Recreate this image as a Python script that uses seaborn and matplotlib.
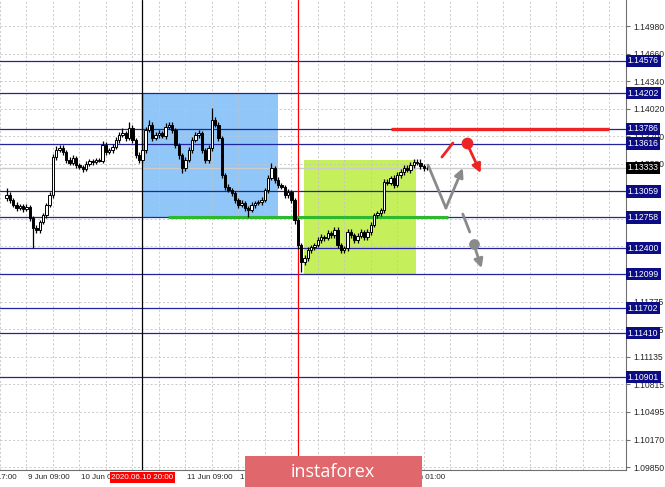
import matplotlib
matplotlib.use("Agg")
import matplotlib.pyplot as plt
import seaborn as sns
from matplotlib.patches import Rectangle

# EURUSD H1 candles (bar index 0 = 9 Jun 03:00)
closes = [
    1.13017, 1.12959, 1.12901, 1.12866, 1.12889, 1.12854, 1.12878, 1.12750, 1.12633, 1.12610,
    1.12703, 1.12784, 1.12901, 1.13017, 1.13459, 1.13540, 1.13564, 1.13517, 1.13424, 1.13389,
    1.13447, 1.13366, 1.13343, 1.13320, 1.13378, 1.13413, 1.13401, 1.13430, 1.13418, 1.13599,
    1.13517, 1.13540, 1.13575, 1.13657, 1.13715, 1.13738, 1.13680, 1.13796, 1.13657, 1.13482,
    1.13424, 1.13540, 1.13773, 1.13831, 1.13680, 1.13715, 1.13738, 1.13703, 1.13808, 1.13831,
    1.13773, 1.13599, 1.13482, 1.13331, 1.13424, 1.13540, 1.13657, 1.13715, 1.13738, 1.13540,
    1.13424, 1.13564, 1.13889, 1.13831, 1.13680, 1.13250, 1.13110, 1.13075, 1.13040, 1.12959,
    1.12901, 1.12924, 1.12866, 1.12842, 1.12901, 1.12924, 1.12936, 1.12959, 1.13075, 1.13215,
    1.13331, 1.13192, 1.13134, 1.13110, 1.13017, 1.13052, 1.12959, 1.12726, 1.12436, 1.12238,
    1.12285, 1.12378, 1.12412, 1.12436, 1.12494, 1.12529, 1.12517, 1.12575, 1.12552, 1.12610,
    1.12436, 1.12378, 1.12401, 1.12587, 1.12552, 1.12494, 1.12540, 1.12587, 1.12529, 1.12587,
    1.12668, 1.12784, 1.12808, 1.12842, 1.13169, 1.13160, 1.13215, 1.13134, 1.13250, 1.13285,
    1.13331, 1.13308, 1.13366, 1.13401, 1.13389, 1.13354, 1.13331, 1.13333,
]
first_open = 1.12980

# wick sizes in pips above / below the body
upper_wick_pips = [
    8, 3, 2, 3, 2, 2, 3, 2, 2, 3,
    2, 3, 2, 3, 3, 5, 4, 3, 2, 3,
    3, 2, 2, 2, 3, 2, 2, 2, 2, 5,
    3, 2, 3, 3, 4, 6, 2, 7, 3, 2,
    3, 66, 4, 6, 3, 3, 4, 2, 5, 4,
    3, 2, 2, 2, 3, 3, 3, 4, 3, 2,
    2, 3, 14, 4, 3, 2, 2, 3, 2, 2,
    2, 3, 2, 2, 3, 2, 2, 3, 2, 3,
    6, 2, 3, 2, 2, 3, 2, 2, 2, 2,
    4, 3, 3, 2, 3, 3, 2, 4, 2, 3,
    3, 2, 2, 4, 3, 2, 3, 4, 2, 3,
    3, 3, 2, 3, 4, 3, 2, 3, 4, 3,
    3, 4, 4, 3, 3, 5, 2, 2,
]
lower_wick_pips = [
    3, 3, 2, 3, 2, 3, 2, 3, 23, 3,
    3, 2, 3, 2, 3, 3, 2, 3, 3, 2,
    2, 3, 2, 3, 2, 2, 3, 2, 2, 3,
    3, 2, 3, 2, 3, 2, 3, 2, 3, 3,
    4, 3, 3, 2, 3, 2, 3, 2, 3, 2,
    3, 3, 4, 6, 3, 2, 3, 2, 3, 3,
    4, 3, 3, 2, 3, 3, 3, 2, 3, 3,
    3, 2, 3, 8, 2, 3, 2, 3, 2, 3,
    2, 3, 3, 2, 3, 3, 3, 4, 5, 12,
    3, 3, 4, 3, 2, 3, 4, 2, 3, 3,
    3, 4, 3, 3, 4, 3, 3, 2, 4, 3,
    3, 2, 3, 3, 3, 3, 3, 3, 2, 3,
    3, 2, 3, 3, 2, 3, 3, 2,
]

levels = [1.14576, 1.14202, 1.13786, 1.13616, 1.13059, 1.12758,
          1.12400, 1.12099, 1.11702, 1.11410, 1.10901]
last_price = 1.13333

price_ticks = [1.14980, 1.14660, 1.14340, 1.14020, 1.13700, 1.13380, 1.13060,
               1.12740, 1.12420, 1.12100, 1.11775, 1.11455, 1.11135, 1.10815,
               1.10495, 1.10170, 1.09850]
# labels hidden under the level boxes are left blank
price_tick_labels = ["1.14980", "1.14660", "1.14340", "1.14020", "1.13700", "1.13380",
                     "", "", "", "", "1.11775", "1.11455",
                     "1.11135", "1.10815", "1.10495", "1.10170", "1.09850"]

time_ticks = [-10, 6, 22, 38, 54, 70, 86, 102, 118]
time_labels = ["8 Jun 17:00", "9 Jun 09:00", "10 Jun 01:00", "",
               "11 Jun 09:00", "12 Jun 01:00", "", "", "16 Jun 01:00"]

marker_bar = 41
marker_label = "2020.06.10 20:00"
session_bar = 88

# drawn objects
sell_zone_x = [40.8, 82.0]
sell_zone_y = [1.12758, 1.14202]
buy_zone_x = [89.8, 123.7]
buy_zone_y = [1.12099, 1.13424]
support_x = [48.6, 133.3]
support_price = 1.12758
resistance_x = [116.2, 182.0]
resistance_price = 1.13786

grey_path_x = [127.3, 132.7, 137.8]
grey_path_y = [1.13366, 1.12866, 1.13331]
grey_dash_x = [137.8, 139.9]
grey_dash_y = [1.12796, 1.12587]
grey_dot = [141.1, 1.12447]
grey_tip = [143.5, 1.12168]
red_seg_x = [131.5, 134.8]
red_seg_y = [1.13459, 1.13622]
red_dot = [139.0, 1.13622]
red_tip = [143.2, 1.13273]

NAVY = "#24249a"
GREY = "#8a8a8a"
RED = "#ee2424"

sns.set_style("white")
plt.rcParams["font.family"] = ["Liberation Sans", "DejaVu Sans"]

fig = plt.figure(figsize=(6.65, 4.87), dpi=100)
ax = fig.add_axes([0, 17 / 487, 626 / 665, 470 / 487])
ax.set_xlim(-0.9, 187.1)
ax.set_ylim(1.09820, 1.15285)

# grid
ax.set_axisbelow(True)
ax.set_xticks(range(-2, 188, 8), minor=True)
ax.grid(True, which="both", color="#c4c4c4", linestyle=(0, (2.5, 2.5)), linewidth=0.6)

# zones
ax.add_patch(Rectangle((sell_zone_x[0], sell_zone_y[0]), sell_zone_x[1] - sell_zone_x[0],
                       sell_zone_y[1] - sell_zone_y[0], facecolor="#90c6f8",
                       edgecolor="none", zorder=0.2))
ax.add_patch(Rectangle((buy_zone_x[0], buy_zone_y[0]), buy_zone_x[1] - buy_zone_x[0],
                       buy_zone_y[1] - buy_zone_y[0], facecolor="#c6ef5c",
                       edgecolor="none", zorder=0.2))

# levels
for lv in levels:
    ax.axhline(lv, color=NAVY, lw=0.9, zorder=1)
ax.axhline(last_price, color="#cccccc", lw=1.0, zorder=1)
ax.axvline(marker_bar, color="black", lw=0.9, zorder=1)
ax.axvline(session_bar, color="red", lw=0.9, zorder=1)

# candles
opens = [first_open] + closes[:-1]
for i, (o, c) in enumerate(zip(opens, closes)):
    top, bot = max(o, c), min(o, c)
    hi = top + upper_wick_pips[i] * 0.0001
    lo = bot - lower_wick_pips[i] * 0.0001
    ax.vlines(i, lo, hi, color="black", lw=0.9, zorder=3)
    body = max(top - bot, 0.00004)
    ax.bar(i, body, bottom=bot, width=0.72, color="white" if c > o else "black",
           edgecolor="black", linewidth=0.7, zorder=4)

ax.plot(support_x, [support_price] * 2, color="#2db82d", lw=2.2, zorder=2,
        solid_capstyle="butt")
ax.plot(resistance_x, [resistance_price] * 2, color=RED, lw=2.4, zorder=2,
        solid_capstyle="butt")

# scenarios
arrow = dict(arrowstyle="-|>", lw=2.0, mutation_scale=13, shrinkA=0, shrinkB=0)
sns.lineplot(x=grey_path_x[:2], y=grey_path_y[:2], color=GREY, lw=2.0, ax=ax,
             sort=False, zorder=5)
ax.annotate("", xy=(grey_path_x[2], grey_path_y[2]), xytext=(grey_path_x[1], grey_path_y[1]),
            arrowprops=dict(arrow, color=GREY), zorder=5)
ax.plot(grey_dash_x, grey_dash_y, color=GREY, lw=2.0, zorder=5)
ax.scatter([grey_dot[0]], [grey_dot[1]], s=45, color=GREY, zorder=6)
ax.annotate("", xy=tuple(grey_tip), xytext=tuple(grey_dot),
            arrowprops=dict(arrow, color=GREY), zorder=5)
ax.plot(red_seg_x, red_seg_y, color=RED, lw=2.0, zorder=5)
ax.scatter([red_dot[0]], [red_dot[1]], s=55, color=RED, zorder=6)
ax.annotate("", xy=tuple(red_tip), xytext=tuple(red_dot),
            arrowprops=dict(arrow, color=RED), zorder=5)

# axes styling
for side in ["top", "left"]:
    ax.spines[side].set_visible(False)
for side in ["right", "bottom"]:
    ax.spines[side].set_color("#707070")
    ax.spines[side].set_linewidth(0.8)

ax.yaxis.tick_right()
ax.set_yticks(price_ticks)
ax.set_yticklabels(price_tick_labels)
ax.tick_params(axis="y", length=3, pad=2, labelsize=6.2, color="#707070")

vis_ticks = [t for t in time_ticks if t >= 0]
ax.set_xticks(vis_ticks)
ax.set_xticklabels([])
ax.tick_params(axis="x", which="major", length=3, color="#707070")
ax.tick_params(axis="x", which="minor", length=0)
xlab_tf = ax.get_xaxis_transform()
for t, lab in zip(time_ticks, time_labels):
    if lab:
        ax.text(t + 0.4, -0.016, lab, transform=xlab_tf, ha="left", va="center",
                fontsize=5.8, clip_on=False)

ax.text(marker_bar, -0.016, marker_label, transform=xlab_tf, ha="center", va="center",
        fontsize=5.8, color="white", clip_on=False, zorder=10,
        bbox=dict(boxstyle="square,pad=0.2", facecolor="red", edgecolor="none"))

ylab_tf = ax.get_yaxis_transform()
for lv in levels:
    ax.text(1.003, lv, f"{lv:.5f}", transform=ylab_tf, ha="left", va="center",
            fontsize=6.2, color="white", clip_on=False, zorder=10,
            bbox=dict(boxstyle="square,pad=0.2", facecolor="#0c0c84", edgecolor="none"))
ax.text(1.003, last_price, f"{last_price:.5f}", transform=ylab_tf, ha="left", va="center",
        fontsize=6.2, color="white", clip_on=False, zorder=10,
        bbox=dict(boxstyle="square,pad=0.2", facecolor="black", edgecolor="none"))

# watermark
fig.add_artist(Rectangle((245 / 665, 0), 177 / 665, 31 / 487, transform=fig.transFigure,
                         facecolor="#e0686c", edgecolor="none", zorder=20))
fig.text(333 / 665, 15 / 487, "instaforex", ha="center", va="center", color="white",
         fontsize=13, family=["Open Sans", "DejaVu Sans"], zorder=21)

fig.savefig("out.png", dpi=100)
